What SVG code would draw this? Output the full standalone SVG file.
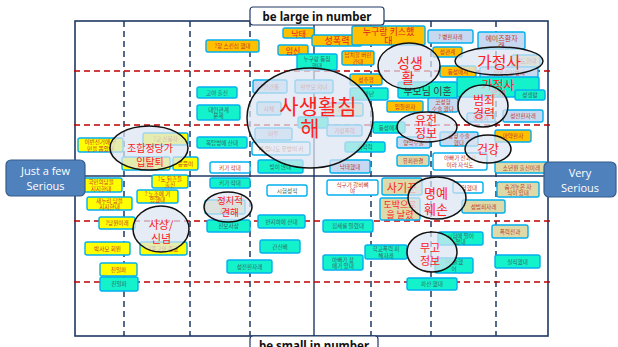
<svg xmlns="http://www.w3.org/2000/svg" width="618" height="347" viewBox="0 0 618 347">
<style>
.bg{fill:#ffffff}
.frame{fill:none;stroke:#1f3864;stroke-width:1.6}
.axis{stroke:#1f3864;stroke-width:1.4}
.vd{stroke:#1f3864;stroke-width:1.5;stroke-dasharray:6,4}
.hd{stroke:#c00000;stroke-width:1.5;stroke-dasharray:6,4}
rect.n{stroke:#00b0f0;stroke-width:1.4}
.y{fill:#ffff00}.o{fill:#ffc000}.c{fill:#14f2cc}.b{fill:#c6d9f1}.w{fill:#ffffff}.t{fill:#ddd9a8}
text{font-family:"Noto Sans CJK KR","Noto Sans",sans-serif;text-anchor:middle;dominant-baseline:central}
.s{font-size:5.6px;fill:#c0392b}
.sc{font-size:5.6px;fill:#2f6b60}
.m{font-size:9px;fill:#e02020}
.e{fill:#dbe5f1;fill-opacity:0.72;stroke:#111;stroke-width:1.5}
.L{fill:#ff2020}
.lab{fill:#fff;stroke:#1f3864;stroke-width:1.2}
.labt{font-family:"Noto Sans","Liberation Sans",sans-serif;font-weight:bold;font-size:11.5px;fill:#111;dominant-baseline:auto}
.side{fill:#4f81bd;stroke:#385d8a;stroke-width:1.2}
.sidet{font-family:"Open Sans","Noto Sans",sans-serif;font-size:11px;fill:#fff;dominant-baseline:auto}
</style>
<rect class="bg" x="0" y="0" width="618" height="347"/>
<g id="grid">
<rect class="frame" x="75" y="21" width="473" height="315"/>
<line class="vd" x1="124" y1="21" x2="124" y2="336"/>
<line class="vd" x1="190" y1="21" x2="190" y2="336"/>
<line class="vd" x1="250" y1="21" x2="250" y2="336"/>
<line class="axis" x1="314" y1="21" x2="314" y2="336"/>
<line class="vd" x1="371" y1="21" x2="371" y2="336"/>
<line class="vd" x1="431" y1="21" x2="431" y2="336"/>
<line class="vd" x1="496" y1="21" x2="496" y2="336"/>
<line class="axis" x1="75" y1="176" x2="548" y2="176"/>
<line class="hd" x1="74" y1="71" x2="550" y2="71"/>
<line class="hd" x1="74" y1="125" x2="550" y2="125"/>
<line class="hd" x1="74" y1="221" x2="550" y2="221"/>
<line class="hd" x1="74" y1="282" x2="550" y2="282"/>
</g>
<g id="nodes">
<g id="n1"><rect class="n o" x="206" y="40" width="53" height="12" rx="2"/><text class="s" x="232.5" y="46">?항 스킨십 했대</text></g>
<g id="n2"><rect class="n o" x="283" y="28" width="31" height="10" rx="2"/><text class="m" style="font-size:8px" x="298.5" y="33">낙태</text></g>
<g id="n3"><rect class="n o" x="312" y="35" width="50" height="11" rx="2"/><text class="m" x="337" y="40.5">성폭력</text></g>
<g id="n4"><rect class="n o" x="352" y="26" width="73" height="19" rx="2"/><text class="m" x="388.5" y="31.5">누구랑 키스했</text><text class="m" x="388.5" y="40.5">대</text></g>
<g id="n5"><rect class="n o" x="278" y="45" width="30" height="10" rx="2"/><text class="m" style="font-size:8px" x="293" y="50">임신</text></g>
<g id="n6"><rect class="n c" x="297" y="54" width="40" height="16" rx="2"/><text class="sc" x="317" y="59">누구랑 동침</text><text class="sc" x="317" y="65.5">했대</text></g>
<g id="n7"><rect class="n o" x="342" y="51" width="32" height="14" rx="2"/><text class="s" x="358" y="55">납치할 버린</text><text class="s" x="358" y="61.5">간대</text></g>
<g id="n8"><rect class="n o" x="350" y="74" width="32" height="11" rx="2"/><text class="s" x="366" y="79.5">성추행</text></g>
<g id="n9"><rect class="n b" x="428" y="30" width="45" height="13" rx="2"/><text class="s" x="450.5" y="36.5">? 병환자래</text></g>
<g id="n10"><rect class="n b" x="478" y="32" width="47" height="17" rx="2"/><text class="s" style="font-size:7px" x="501.5" y="37.5">에이즈환자</text><text class="s" style="font-size:7px" x="501.5" y="45">래</text></g>
<g id="n11"><rect class="n o" x="433" y="47" width="29" height="10" rx="2"/><text class="s" x="447.5" y="52">성관계</text></g>
<g id="n12"><rect class="n o" x="440" y="66" width="36" height="11" rx="2"/><text class="s" x="458" y="71.5">동성애자</text></g>
<g id="n13"><rect class="n t" x="512" y="55" width="28" height="12" rx="2"/><text class="s" x="526" y="61">외도한대</text></g>
<g id="n14"><rect class="n b" x="480" y="67" width="58" height="11" rx="2"/><text class="s" x="509" y="72.5">집에 정신병자</text></g>
<g id="n15"><rect class="n c" x="457" y="77" width="82" height="20" rx="2"/><text class="L" style="font-size:12px" x="498" y="84">가정사</text><text class="L" style="font-size:8px" x="498" y="93">문제</text></g>
<g id="n16"><rect class="n c" x="515" y="90" width="30" height="10" rx="2"/><text class="sc" x="530" y="95">성생활</text></g>
<g id="n17"><rect class="n c" x="398" y="82" width="59" height="16" rx="2"/><text style="font-size:10px;fill:#3a3a3a" x="427.5" y="90">부모님 이혼</text></g>
<g id="n18"><rect class="n c" x="350" y="88" width="38" height="12" rx="2"/><text class="sc" x="369" y="94">가난</text></g>
<g id="n19"><rect class="n o" x="387" y="101" width="36" height="11" rx="2"/><text class="s" x="405" y="106.5">임질환자</text></g>
<g id="n20"><rect class="n b" x="428" y="98" width="30" height="14" rx="2"/><text class="s" x="443" y="102">코성형</text><text class="s" x="443" y="108.5">수술 했다</text></g>
<g id="n21"><rect class="n b" x="467" y="113" width="28" height="9" rx="2"/><text class="s" x="481" y="117.5">성범죄</text></g>
<g id="n22"><rect class="n b" x="503" y="110" width="40" height="12" rx="2"/><text class="s" x="523" y="116">성전환자래</text></g>
<g id="n23"><rect class="n c" x="373" y="122" width="32" height="11" rx="2"/><text class="sc" x="389" y="127.5">동성애자</text></g>
<g id="n24"><rect class="n b" x="397" y="137" width="33" height="11" rx="2"/><text class="s" x="413.5" y="142.5">양악수술</text></g>
<g id="n25"><rect class="n b" x="440" y="132" width="38" height="14" rx="2"/><text class="s" x="459" y="136">성형 수술</text><text class="s" x="459" y="142.5">했다</text></g>
<g id="n26"><rect class="n o" x="495" y="130" width="36" height="12" rx="2"/><text class="s" x="513" y="136">마약환자</text></g>
<g id="n27"><rect class="n t" x="397" y="155" width="32" height="11" rx="2"/><text class="s" x="413" y="160.5">유죄판결</text></g>
<g id="n28"><rect class="n w" x="433" y="153" width="54" height="17" rx="2"/><text class="s" x="460" y="158">아빠가 전과자</text><text class="s" x="460" y="165">이라 자식도</text></g>
<g id="n29"><rect class="n t" x="495" y="162" width="53" height="11" rx="2"/><text class="s" x="521.5" y="167.5">소년원 출신이래</text></g>
<g id="n30"><rect class="n c" x="345" y="142" width="40" height="10" rx="2"/><text class="sc" x="365" y="147">저학력</text></g>
<g id="n31"><rect class="n b" x="253" y="80" width="34" height="13" rx="2"/><text class="s" x="270" y="86.5">?인간통</text></g>
<g id="n32"><rect class="n b" x="295" y="80" width="38" height="13" rx="2"/><text class="s" x="314" y="86.5">편부모 자녀</text></g>
<g id="n33"><rect class="n b" x="257" y="102" width="24" height="13" rx="2"/><text class="s" x="269" y="108.5">사채</text></g>
<g id="n34"><rect class="n t" x="325" y="103" width="38" height="13" rx="2"/><text class="s" x="344" y="109.5">?수용</text></g>
<g id="n35"><rect class="n c" x="298" y="117" width="30" height="11" rx="2"/></g>
<g id="n36"><rect class="n b" x="255" y="128" width="37" height="12" rx="2"/><text class="s" x="273.5" y="134">타투</text></g>
<g id="n37"><rect class="n b" x="327" y="125" width="35" height="11" rx="2"/><text class="s" x="344.5" y="130.5">가정폭력</text></g>
<g id="n38"><rect class="n w" x="252" y="142" width="58" height="13" rx="2"/><text class="s" x="281" y="148.5">계 엄니도 유방이 커</text></g>
<g id="n39"><rect class="n c" x="197" y="87" width="40" height="11" rx="2"/><text class="sc" x="217" y="92.5">고아 출신</text></g>
<g id="n40"><rect class="n c" x="197" y="105" width="43" height="15" rx="2"/><text class="sc" x="218.5" y="109.5">대인관계</text><text class="sc" x="218.5" y="116">문제</text></g>
<g id="n41"><rect class="n c" x="197" y="137" width="50" height="11" rx="2"/><text class="sc" x="222" y="142.5">옥탑방에 산대</text></g>
<g id="n42"><rect class="n w" x="210" y="162" width="40" height="11" rx="2"/><text class="s" x="230" y="167.5">키가 작대</text></g>
<g id="n43"><rect class="n y" x="173" y="157" width="25" height="13" rx="2"/><text class="s" x="185.5" y="163.5">뚱뚱이</text></g>
<g id="n44"><rect class="n c" x="210" y="178" width="40" height="10" rx="2"/><text class="sc" x="230" y="183">키가 작대</text></g>
<g id="n45"><rect class="n c" x="258" y="160" width="45" height="13" rx="2"/><text class="sc" x="280.5" y="166.5">빚이 많대</text></g>
<g id="n46"><rect class="n b" x="330" y="160" width="40" height="13" rx="2"/><text class="s" x="350" y="166.5">낙태했대</text></g>
<g id="n47"><rect class="n y" x="78" y="138" width="45" height="14" rx="2"/><text class="s" x="100.5" y="142">이번선거에 무</text><text class="s" x="100.5" y="148.5">민을 뽑았대</text></g>
<g id="n48"><rect class="n y" x="143" y="133" width="45" height="12" rx="2"/><text class="s" x="165.5" y="139">?교 신봉자</text></g>
<g id="n49"><rect class="n y" x="122" y="157" width="48" height="13" rx="2"/><text class="s" x="146" y="160.5">?교</text><text class="s" x="146" y="166.5">지지자</text></g>
<g id="n50"><rect class="n y" x="152" y="175" width="36" height="13" rx="2"/><text class="s" x="170" y="178.5">?도 뒤흔들</text><text class="s" x="170" y="184.5">출신</text></g>
<g id="n51"><rect class="n y" x="80" y="178" width="42" height="14" rx="2"/><text class="s" x="101" y="182">국민의당을</text><text class="s" x="101" y="188.5">지지한대</text></g>
<g id="n52"><rect class="n y" x="87" y="197" width="45" height="13" rx="2"/><text class="s" x="109.5" y="200.5">새누리 당을</text><text class="s" x="109.5" y="206.5">지지한대</text></g>
<g id="n53"><rect class="n y" x="137" y="190" width="41" height="13" rx="2"/><text class="s" x="157.5" y="193.5">? 노조에 가</text><text class="s" x="157.5" y="199.5">입했대</text></g>
<g id="n54"><rect class="n t" x="205" y="200" width="40" height="14" rx="2"/><text class="s" x="225" y="204">이른</text><text class="s" x="225" y="210.5">지지</text></g>
<g id="n55"><rect class="n y" x="99" y="217" width="36" height="12" rx="2"/><text class="s" x="117" y="223">?당원이래</text></g>
<g id="n56"><rect class="n y" x="140" y="242" width="47" height="13" rx="2"/><text class="s" x="163.5" y="248.5">?종교와 종교</text></g>
<g id="n57"><rect class="n y" x="85" y="242" width="45" height="13" rx="2"/><text class="s" x="107.5" y="248.5">박사모 회원</text></g>
<g id="n58"><rect class="n y" x="100" y="263" width="37" height="13" rx="2"/><text class="s" x="118.5" y="269.5">친일파</text></g>
<g id="n59"><rect class="n c" x="100" y="277" width="38" height="14" rx="2"/><text class="sc" x="119" y="284">친일파</text></g>
<g id="n60"><rect class="n c" x="207" y="220" width="43" height="12" rx="2"/><text class="sc" x="228.5" y="226">진보사상</text></g>
<g id="n61"><rect class="n c" x="227" y="260" width="45" height="13" rx="2"/><text class="sc" x="249.5" y="266.5">성전환자래</text></g>
<g id="n62"><rect class="n c" x="260" y="240" width="40" height="13" rx="2"/><text class="sc" x="280" y="246.5">간신배</text></g>
<g id="n63"><rect class="n c" x="258" y="215" width="47" height="13" rx="2"/><text class="sc" x="281.5" y="221.5">반지하에 산대</text></g>
<g id="n64"><rect class="n c" x="323" y="220" width="50" height="12" rx="2"/><text class="sc" x="348" y="226">집세를 밀렸대</text></g>
<g id="n65"><rect class="n w" x="267" y="185" width="40" height="11" rx="2"/><text class="sc" x="287" y="190.5">시험성적</text></g>
<g id="n66"><rect class="n w" x="327" y="180" width="51" height="15" rx="2"/><text class="s" x="352.5" y="184.5">식구가 갈비뼈</text><text class="s" x="352.5" y="191">야</text></g>
<g id="n67"><rect class="n c" x="323" y="255" width="40" height="15" rx="2"/><text class="sc" x="343" y="259.5">아빠가 장</text><text class="sc" x="343" y="266">애가 있대</text></g>
<g id="n68"><rect class="n c" x="365" y="245" width="42" height="14" rx="2"/><text class="sc" x="386" y="249">학교폭력 피</text><text class="sc" x="386" y="255.5">해자래</text></g>
<g id="n69"><rect class="n t" x="382" y="178" width="40" height="17" rx="2"/><text class="L" style="font-size:11px" x="402" y="186.5">사기꾼</text></g>
<g id="n70"><rect class="n t" x="380" y="198" width="40" height="22" rx="2"/><text class="L" style="font-size:9px" x="400" y="204">도박으로</text><text class="L" style="font-size:9px" x="400" y="214.5">을 날렸</text></g>
<g id="n71"><rect class="n w" x="453" y="182" width="30" height="11" rx="2"/><text class="s" x="468" y="187.5">?형했대</text></g>
<g id="n72"><rect class="n t" x="497" y="182" width="42" height="15" rx="2"/><text class="s" x="518" y="186.5">숨겨놓은 자</text><text class="s" x="518" y="193">식이 있대</text></g>
<g id="n73"><rect class="n t" x="462" y="200" width="43" height="13" rx="2"/><text class="s" x="483.5" y="206.5">성범죄자래</text></g>
<g id="n74"><rect class="n t" x="492" y="225" width="36" height="13" rx="2"/><text class="s" x="510" y="231.5">폭력전과</text></g>
<g id="n75"><rect class="n c" x="495" y="255" width="45" height="13" rx="2"/><text class="sc" x="517.5" y="261.5">실직했대</text></g>
<g id="n76"><rect class="n c" x="438" y="232" width="45" height="13" rx="2"/><text class="sc" x="460.5" y="235.5">시험에 떨어</text><text class="sc" x="460.5" y="241.5">졌대</text></g>
<g id="n77"><rect class="n c" x="435" y="258" width="38" height="15" rx="2"/><text class="sc" x="454" y="262">?수술했</text><text class="sc" x="454" y="268.5">어</text></g>
<g id="n78"><rect class="n c" x="407" y="278" width="50" height="12" rx="2"/><text class="sc" x="432" y="284">파산 했대</text></g>
</g>
<g id="clusters">
<g id="e-privacy"><ellipse class="e" cx="310" cy="118" rx="63" ry="50"/><text class="L" style="font-size:21px" x="318" y="105">사생활침</text><text class="L" style="font-size:21px" x="310" y="127">해</text></g>
<g id="e-sex"><ellipse class="e" cx="409" cy="66" rx="31" ry="23"/><text class="L" style="font-size:14px" x="410" y="62">성생</text><text class="L" style="font-size:14px" x="408" y="77">활</text></g>
<g id="e-family"><ellipse class="e" cx="499" cy="61" rx="44" ry="14"/><text class="L" style="font-size:16px" x="499" y="61">가정사</text></g>
<g id="e-crime"><ellipse class="e" cx="483" cy="106" rx="25" ry="21"/><text class="L" style="font-size:12px" x="484" y="99">범죄</text><text class="L" style="font-size:12px" x="484" y="112">경력</text></g>
<g id="e-gene"><ellipse class="e" cx="427" cy="127" rx="30" ry="15"/><text class="L" style="font-size:12px" x="426" y="119.5">유전</text><text class="L" style="font-size:12px" x="426" y="132.5">정보</text></g>
<g id="e-health"><ellipse class="e" cx="488" cy="149" rx="23" ry="14"/><text class="L" style="font-size:12px" x="488" y="148">건강</text></g>
<g id="e-union"><ellipse class="e" cx="149" cy="148" rx="39" ry="22"/><text class="L" style="font-size:10px" x="150" y="147">조합정당가</text><text class="L" style="font-size:10px" x="150" y="161">입탈퇴</text></g>
<g id="e-politic"><ellipse class="e" cx="228" cy="207" rx="24" ry="15"/><text class="L" style="font-size:9.5px" x="230" y="200">정치적</text><text class="L" style="font-size:9.5px" x="230" y="212">견해</text></g>
<g id="e-belief"><ellipse class="e" cx="161" cy="229" rx="28" ry="23"/><text class="L" style="font-size:11px" x="161" y="224">사상/</text><text class="L" style="font-size:11px" x="161" y="238">신념</text></g>
<g id="e-honor"><ellipse class="e" cx="437" cy="198" rx="29" ry="21"/><text class="L" style="font-size:13px" x="436" y="192">명예</text><text class="L" style="font-size:13px" x="436" y="208">훼손</text></g>
<g id="e-false"><ellipse class="e" cx="432" cy="252" rx="25" ry="20"/><text class="L" style="font-size:11px" x="430" y="247">무고</text><text class="L" style="font-size:11px" x="430" y="260">정보</text></g>
</g>
<g id="labels">
<g id="top-label"><rect class="lab" x="250" y="7" width="134" height="18" rx="3"/><text class="labt" x="317" y="21">be large in number</text></g>
<g id="bottom-label"><rect class="lab" x="250" y="336" width="128" height="18" rx="3"/><text class="labt" x="314" y="350">be small in number</text></g>
<g id="left-label"><rect class="side" x="6" y="160" width="79" height="36" rx="5"/><text class="sidet" x="45.5" y="175">Just a few</text><text class="sidet" x="45.5" y="190">Serious</text></g>
<g id="right-label"><rect class="side" x="544" y="162" width="72" height="35" rx="5"/><text class="sidet" x="580" y="177">Very</text><text class="sidet" x="580" y="192">Serious</text></g>
</g>
</svg>
